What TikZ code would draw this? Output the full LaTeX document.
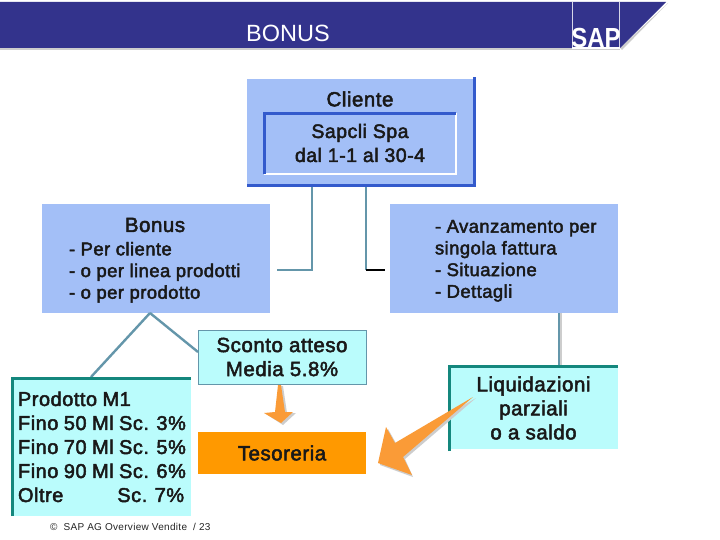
\documentclass[tikz,border=0pt]{standalone}
\usepackage{fontspec}
\setmainfont[FakeBold=2.4,LetterSpace=2.5]{Liberation Sans}
\newfontfamily\prodfont[FakeBold=2.4,LetterSpace=2.5,WordSpace=0.9]{Liberation Sans}
\newfontfamily\plainsans{Liberation Sans}
\newfontfamily\wideplain[LetterSpace=3]{Liberation Sans}
\newfontfamily\boldsans{Liberation Sans Bold}
\definecolor{band}{RGB}{51,51,140}
\definecolor{periw}{RGB}{163,191,247}
\definecolor{royal}{RGB}{51,90,204}
\definecolor{aqua}{RGB}{186,252,252}
\definecolor{teal1}{RGB}{20,135,125}
\definecolor{steel}{RGB}{100,150,170}
\definecolor{orange1}{RGB}{255,153,0}
\definecolor{orange2}{RGB}{250,155,55}
\definecolor{greyshade}{RGB}{205,205,205}
\tikzset{
  panel/.style={fill=periw,draw=none,inner sep=0pt,outer sep=0pt},
  aquabox/.style={fill=aqua,draw=none,inner sep=0pt,outer sep=0pt},
  label/.style={inner sep=0pt,outer sep=0pt,align=center,font=\fontsize{20.5}{24}\selectfont,text=black!90},
  listing/.style={inner sep=0pt,outer sep=0pt,align=left,font=\fontsize{18.4}{21.7}\selectfont,text=black!90},
  prodlist/.style={inner sep=0pt,outer sep=0pt,align=left,font=\prodfont\fontsize{20}{24}\selectfont,text=black!90},
  link/.style={draw=steel,line width=2.4pt},
  edgeblue/.style={draw=royal,line width=3pt},
  edgeteal/.style={draw=teal1,line width=3pt},
}
\begin{document}
\begin{tikzpicture}[x=1pt,y=-1pt]
\useasboundingbox (0,0) rectangle (720,540);
\fill[white] (0,0) rectangle (720,540);
% header band
\fill[greyshade] (0,48) -- (620,48) -- (620,50) -- (0,50) -- cycle;
\fill[greyshade] (668,3) -- (622,50) -- (620,48) -- cycle;
\fill[band] (0,2) -- (666,2) -- (620,48) -- (0,48) -- cycle;
\draw[white!80!band,line width=.8pt] (572.5,2) -- (572.5,48) (619.5,2) -- (619.5,48);
\node[inner sep=0pt,text=white,font=\plainsans\fontsize{23.5}{26}\selectfont] (title) at (288,33) {BONUS};
\fill[white] (572,47) rectangle (620,49);
\node[inner sep=0pt,text=white,font=\boldsans\fontsize{24}{24}\selectfont,anchor=base,yscale=1.15] (sap) at (596,48) {SAP};
% boxes
\node[panel,minimum width=227pt,minimum height=107pt] (cliente) at (360.5,132.5) {};
\node[panel,minimum width=228pt,minimum height=109pt] (bonus) at (156,258.5) {};
\node[panel,minimum width=228pt,minimum height=109pt] (avanz) at (504,258.5) {};
\node[aquabox,minimum width=180pt,minimum height=139pt] (prod) at (101,446.5) {};
\node[aquabox,minimum width=168pt,minimum height=54pt,draw=steel,line width=.8pt] (sconto) at (282,357) {};
\node[fill=orange1,inner sep=0pt,outer sep=0pt,minimum width=168pt,minimum height=42pt] (tes) at (282,453) {};
\node[aquabox,minimum width=169pt,minimum height=84pt] (liq) at (533.5,407) {};
\coordinate (leftend) at (277,270);
\coordinate (rightmid) at (366,270);
\coordinate (rightend) at (385,270);
\coordinate (bonustip) at (150,313);
% connectors
\draw[link,line width=1.6pt] (cliente.south -| 312,186) |- (leftend);
\draw[link,line width=1.6pt] (cliente.south -| rightmid) -- (rightmid);
\draw[black,line width=1.2pt] (rightmid) -- (rightend);
\draw[link] (bonustip) -- (prod.north -| 91,377);
\draw[link] (bonustip) -- (sconto.west |- 0,352);
\draw[greyshade,line width=2.4pt] (561,313) -- (561,365);
\draw[link] (avanz.south -| 559,313) -- (liq.north -| 559,365);
% box edges
\draw[edgeblue] (247,185.5) -- (474.5,185.5) -- (474.5,77);
\draw[white,line width=2.2pt] (264,174) -- (456,174) -- (456,113);
\draw[edgeblue] (264.5,174) -- (264.5,113.5) -- (456,113.5);
\draw[edgeteal] (12.5,516) -- (12.5,378.5) -- (191,378.5);
\draw[edgeteal] (449.5,451) -- (449.5,366.5) -- (618,366.5);
% arrows
\fill[greyshade] (280,386) -- (283,386) -- (287,413) -- (296,413) -- (283,425) -- (266,414) -- (277,413) -- cycle;
\fill[orange2] (278,385) -- (281,385) -- (285,412) -- (293,412) -- (281,423) -- (264,413) -- (275,412) -- cycle;
\fill[greyshade] (476,398) -- (405,459) -- (413,477) -- (380,465) -- (388,429) -- (397,445) -- cycle;
\fill[orange2] (473,397) -- (403,457) -- (412,475) -- (378,463) -- (386,427) -- (395,443) -- cycle;
% texts
\node[label] (t1) at (360,99) {Cliente};
\node[label,font=\fontsize{19.5}{24}\selectfont] (t2) at (360,143) {Sapcli Spa\\dal 1-1 al 30-4};
\node[label] (t3) at (155,225) {Bonus};
\node[listing,anchor=north west] (t4) at (69,242) {- Per cliente\\- o per linea prodotti\\- o per prodotto};
\node[listing,anchor=north west] (t5) at (435,220) {- Avanzamento per\\singola fattura\\- Situazione\\- Dettagli};
\node[prodlist,anchor=north west] (t6) at (18,391.5) {Prodotto M1\\Fino 50 Ml Sc. 3\%\\Fino 70 Ml Sc. 5\%\\Fino 90 Ml Sc. 6\%\\Oltre\hspace{54pt}Sc. 7\%};
\node[label] (t7) at (282,357) {Sconto atteso\\Media 5.8\%};
\node[label] (t8) at (282,453) {Tesoreria};
\node[label] (t9) at (533.5,408) {Liquidazioni\\parziali\\o a saldo};
\node[inner sep=0pt,anchor=west,font=\wideplain\fontsize{10}{11}\selectfont,text=black!85] (foot) at (50,527) {©\hspace{6pt}SAP AG Overview Vendite\hspace{3pt} / 23};
\end{tikzpicture}
\end{document}
